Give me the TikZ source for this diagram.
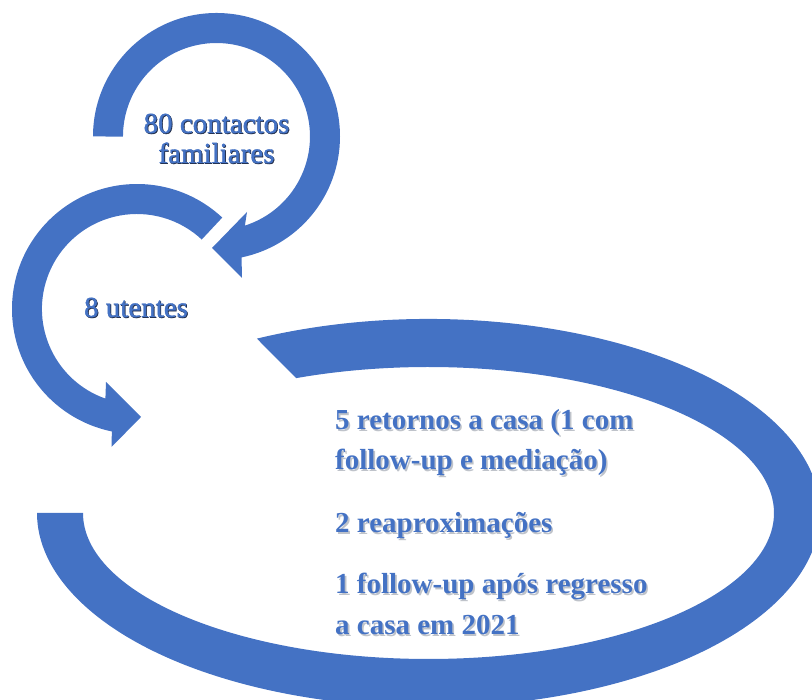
\documentclass[tikz,border=0pt]{standalone}
\usepackage{fontspec}
\setmainfont{Liberation Serif}
\newfontfamily\tnr{Liberation Serif}[FakeBold=1.2]
\newfontfamily\tnrb{Liberation Serif Bold}
\definecolor{ablue}{HTML}{4472C4}
\definecolor{shdark}{HTML}{1F2A44}
\definecolor{shsoft}{HTML}{BFC3CA}
\newcommand{\shd}[3]{\leavevmode\rlap{\kern#2\raisebox{-#2}{\textcolor{#1}{#3}}}#3}
\begin{document}
\begin{tikzpicture}[x=1pt,y=1pt,
  ring/.style={fill=ablue,draw=none},
  ringtext/.style={font=\tnr\fontsize{29}{29}\selectfont,text=ablue,inner sep=0pt,anchor=base},
  listtext/.style={font=\tnrb\fontsize{29}{29}\selectfont,text=ablue,inner sep=0pt,anchor=base west}]
\useasboundingbox (0,0) rectangle (812,700);
\clip (0,0) rectangle (812,700);

% large elliptical ring (no arrowhead)
\fill[ring] (428.5,187) ++(116:391.5 and 194)
  arc[start angle=116,end angle=-180,x radius=391.5,y radius=194]
  -- (83,187)
  arc[start angle=-180,end angle=112.5,x radius=345.5,y radius=146] -- cycle;

% top circular arrow
\fill[ring] (93,563.5) arc[start angle=180,end angle=-78.3,radius=123.5]
  -- (242,422) -- (212,452) -- (247,488) -- (244.9,474.4)
  arc[start angle=-72.3,end angle=180,radius=93.5] -- cycle;

% second circular arrow
\fill[ring] (222.25,482.4) arc[start angle=47,end angle=258.4,radius=125]
  -- (111.5,253) -- (141,283) -- (106,318) -- (105.4,301.4)
  arc[start angle=250.6,end angle=47,radius=95] -- cycle;

% texts
\node[ringtext] (t1a) at (216.5,567) {\shd{shdark}{0.8pt}{80 contactos}};
\node[ringtext] (t1b) at (216.5,537) {\shd{shdark}{0.8pt}{familiares}};
\node[ringtext] (t2) at (136,383) {\shd{shdark}{0.8pt}{8 utentes}};

\node[listtext] (l1) at (335,270) {\shd{shsoft}{1.6pt}{5 retornos a casa (1 com}};
\node[listtext] (l2) at (335,230) {\shd{shsoft}{1.6pt}{follow-up e mediação)}};
\node[listtext] (l3) at (335,167) {\shd{shsoft}{1.6pt}{2 reaproximações}};
\node[listtext] (l4) at (335,106) {\shd{shsoft}{1.6pt}{1 follow-up após regresso}};
\node[listtext] (l5) at (335,65) {\shd{shsoft}{1.6pt}{a casa em 2021}};
\end{tikzpicture}
\end{document}
